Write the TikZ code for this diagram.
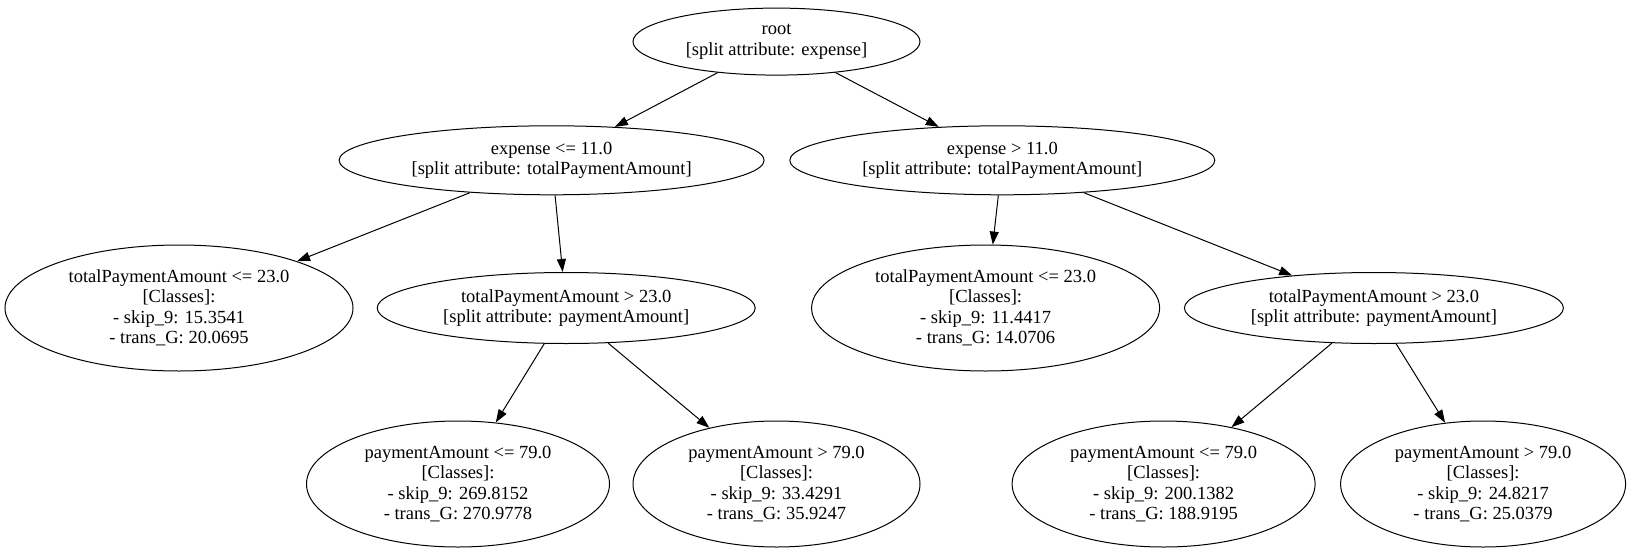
\documentclass[tikz,border=0pt]{standalone}
\usepackage{fontspec}
\setmainfont{Liberation Serif}
\usetikzlibrary{shapes.geometric,arrows.meta}

\tikzset{
	treenode/.style={draw, ellipse, line width=1pt, inner sep=0pt, align=center,
		font=\fontsize{18.5}{20.5}\selectfont},
	splitnode/.style={treenode},
	leafnode/.style={treenode, minimum height=126pt},
	edge/.style={line width=1pt, -{Triangle[length=13pt,width=9pt]}}
}

\begin{document}
\begin{tikzpicture}[x=1pt, y=-1pt]
		\useasboundingbox (0,0) rectangle (1632,554);
		\node[splitnode, minimum width=287pt, minimum height=67pt] (root) at (776.5,41.6) {root\\ {[split attribute: expense]}};
		\node[splitnode, minimum width=425pt, minimum height=69pt] (exple) at (551.6,160.3) {expense <= 11.0\\ {[split attribute: totalPaymentAmount]}};
		\node[splitnode, minimum width=425pt, minimum height=69pt] (expgt) at (1002.3,160.3) {expense > 11.0\\ {[split attribute: totalPaymentAmount]}};
		\node[leafnode, minimum width=348pt] (lle) at (179,308) {totalPaymentAmount <= 23.0\\ {[Classes]:}\\ - skip\_9: 15.3541\\ - trans\_G: 20.0695};
		\node[splitnode, minimum width=378pt, minimum height=71pt] (lgt) at (566.2,308) {totalPaymentAmount > 23.0\\ {[split attribute: paymentAmount]}};
		\node[leafnode, minimum width=348pt] (rle) at (985.6,308) {totalPaymentAmount <= 23.0\\ {[Classes]:}\\ - skip\_9: 11.4417\\ - trans\_G: 14.0706};
		\node[splitnode, minimum width=379pt, minimum height=71pt] (rgt) at (1373.9,308) {totalPaymentAmount > 23.0\\ {[split attribute: paymentAmount]}};
		\node[leafnode, minimum width=303pt] (lgtle) at (458,484) {paymentAmount <= 79.0\\ {[Classes]:}\\ - skip\_9: 269.8152\\ - trans\_G: 270.9778};
		\node[leafnode, minimum width=287pt] (lgtgt) at (776.5,484) {paymentAmount > 79.0\\ {[Classes]:}\\ - skip\_9: 33.4291\\ - trans\_G: 35.9247};
		\node[leafnode, minimum width=303pt] (rgtle) at (1163.6,484) {paymentAmount <= 79.0\\ {[Classes]:}\\ - skip\_9: 200.1382\\ - trans\_G: 188.9195};
		\node[leafnode, minimum width=285pt] (rgtgt) at (1483.1,484) {paymentAmount > 79.0\\ {[Classes]:}\\ - skip\_9: 24.8217\\ - trans\_G: 25.0379};
		\draw[edge] (root) -- (exple);
		\draw[edge] (root) -- (expgt);
		\draw[edge] (exple) -- (lle);
		\draw[edge] (exple) -- (lgt);
		\draw[edge] (expgt) -- (rle);
		\draw[edge] (expgt) -- (rgt);
		\draw[edge] (lgt) -- (lgtle);
		\draw[edge] (lgt) -- (lgtgt);
		\draw[edge] (rgt) -- (rgtle);
		\draw[edge] (rgt) -- (rgtgt);
	\end{tikzpicture}
\end{document}
